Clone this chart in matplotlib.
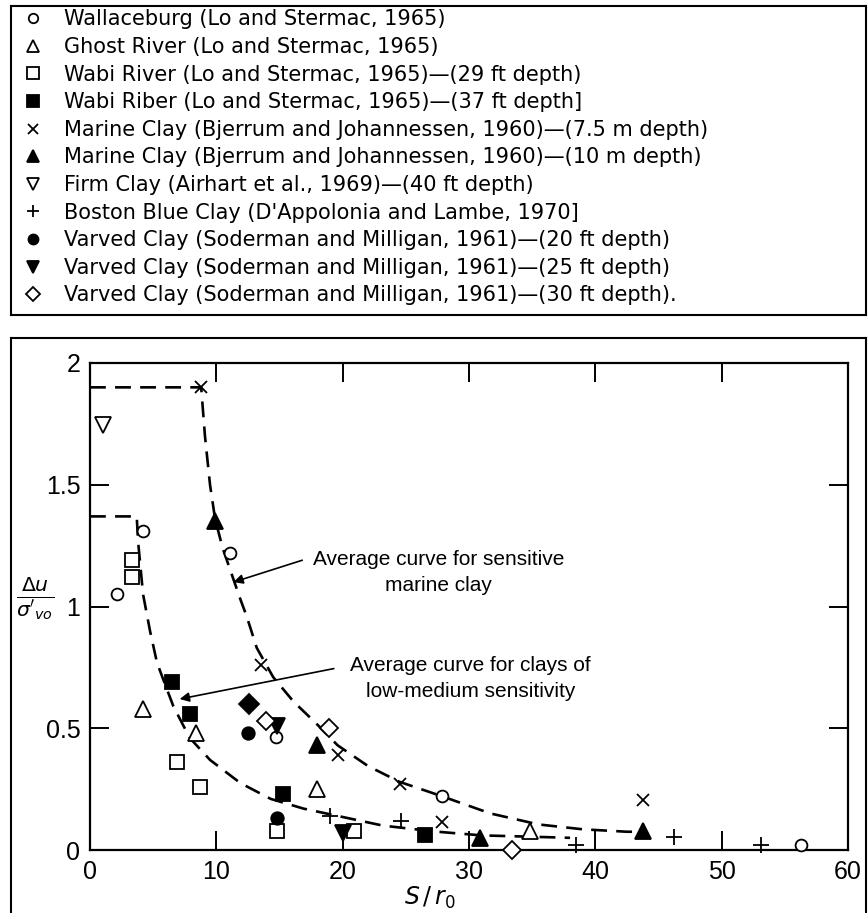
import matplotlib
matplotlib.use("Agg")
import matplotlib.pyplot as plt
from matplotlib import font_manager

# --- DATA -------------------------------------------------------------------
wallaceburg_x = [2.1, 4.2, 11.1, 14.7, 27.9, 56.3]
wallaceburg_y = [1.05, 1.31, 1.22, 0.465, 0.22, 0.02]

ghost_x = [4.2, 8.4, 18.0, 34.8]
ghost_y = [0.58, 0.48, 0.25, 0.08]

wabi29_x = [3.3, 3.3, 6.9, 8.7, 14.8, 20.9]
wabi29_y = [1.19, 1.12, 0.36, 0.26, 0.08, 0.08]

wabi37_x = [6.5, 7.9, 15.3, 26.5]
wabi37_y = [0.69, 0.56, 0.23, 0.06]

marine75_x = [8.8, 13.5, 19.6, 24.5, 27.9, 43.8]
marine75_y = [1.90, 0.76, 0.39, 0.27, 0.115, 0.205]

marine10_x = [9.9, 18.0, 30.9, 43.8]
marine10_y = [1.35, 0.43, 0.05, 0.08]

firm_x = [1.05]
firm_y = [1.745]

boston_x = [19.0, 24.6, 38.5, 46.2, 53.1]
boston_y = [0.14, 0.12, 0.02, 0.055, 0.02]

varved20_x = [12.5, 14.8]
varved20_y = [0.48, 0.13]

varved25_x = [14.8, 20.0]
varved25_y = [0.51, 0.07]

varved30_x = [13.9, 18.9, 33.4]
varved30_y = [0.53, 0.50, 0.0]

extra_x = [12.6]
extra_y = [0.60]

# dashed average curves
sens_x = [0, 8.8, 9.1, 9.5, 9.9, 10.5, 11.1, 11.9, 12.4, 13.2, 14.5, 16.1,
          17.9, 19.6, 22.0, 24.5, 27.9, 31.7, 35.5, 39.0, 42.5, 44.0]
sens_y = [1.90, 1.90, 1.70, 1.50, 1.36, 1.24, 1.15, 1.03, 0.96, 0.83, 0.71, 0.61,
          0.52, 0.43, 0.345, 0.28, 0.22, 0.15, 0.105, 0.085, 0.075, 0.075]

low_x = [0, 3.7, 3.8, 4.2, 4.75, 5.3, 5.8, 6.6, 7.9, 9.5, 11.9, 14.3, 16.9,
         18.7, 23.2, 27.5, 31.0, 34.6, 38.0]
low_y = [1.37, 1.37, 1.27, 1.05, 0.90, 0.77, 0.70, 0.59, 0.46, 0.37, 0.275, 0.21, 0.17,
         0.15, 0.10, 0.075, 0.06, 0.055, 0.05]

labels = [
    "Wallaceburg (Lo and Stermac, 1965)",
    "Ghost River (Lo and Stermac, 1965)",
    "Wabi River (Lo and Stermac, 1965)\u2014(29 ft depth)",
    "Wabi Riber (Lo and Stermac, 1965)\u2014(37 ft depth]",
    "Marine Clay (Bjerrum and Johannessen, 1960)\u2014(7.5 m depth)",
    "Marine Clay (Bjerrum and Johannessen, 1960)\u2014(10 m depth)",
    "Firm Clay (Airhart et al., 1969)\u2014(40 ft depth)",
    "Boston Blue Clay (D'Appolonia and Lambe, 1970]",
    "Varved Clay (Soderman and Milligan, 1961)\u2014(20 ft depth)",
    "Varved Clay (Soderman and Milligan, 1961)\u2014(25 ft depth)",
    "Varved Clay (Soderman and Milligan, 1961)\u2014(30 ft depth).",
]

x_ticks = [0, 10, 20, 30, 40, 50, 60]
y_ticks = [0, 0.5, 1, 1.5, 2]
y_ticklabels = ["0", "0.5", "1", "1.5", "2"]

# condensed face for the chart text, if one is installed
installed = {f.name for f in font_manager.fontManager.ttflist}
if "Liberation Sans Narrow" in installed:
    NARROW = ["Liberation Sans Narrow", "DejaVu Sans"]
    ANN_SIZE, TICK_SIZE = 16.3, 19
else:
    NARROW = ["Liberation Sans", "DejaVu Sans"]
    ANN_SIZE, TICK_SIZE = 15, 18

# --- FIGURE ------------------------------------------------------------------
W, H = 868, 913
fig = plt.figure(figsize=(W / 100, H / 100), dpi=100)

# outer frame around the chart
frame = fig.add_axes([11 / W, 0, 855 / W, (H - 338) / H], zorder=-1)
frame.set_xticks([])
frame.set_yticks([])
frame.spines["bottom"].set_visible(False)
for s in frame.spines.values():
    s.set_linewidth(1.5)

# legend box
lax = fig.add_axes([11 / W, 1 - 315 / H, 855 / W, 309 / H])
lax.set_xticks([])
lax.set_yticks([])
for s in lax.spines.values():
    s.set_linewidth(1.5)

ax = fig.add_axes([90 / W, 1 - 850 / H, 758 / W, 487 / H])

mk = dict(linestyle="none", color="black", markeredgecolor="black",
          markeredgewidth=1.3, clip_on=False, zorder=3)
ax.plot(wallaceburg_x, wallaceburg_y, marker="o", ms=8.5, mfc="white", label=labels[0], **mk)
ax.plot(ghost_x, ghost_y, marker="^", ms=11, mfc="white", label=labels[1], **mk)
ax.plot(wabi29_x, wabi29_y, marker="s", ms=10, mfc="white", label=labels[2], **mk)
ax.plot(wabi37_x, wabi37_y, marker="s", ms=10, mfc="black", label=labels[3], **mk)
ax.plot(marine75_x, marine75_y, marker="x", ms=9, label=labels[4], **mk)
ax.plot(marine10_x, marine10_y, marker="^", ms=11, mfc="black", label=labels[5], **mk)
ax.plot(firm_x, firm_y, marker="v", ms=11, mfc="white", label=labels[6], **mk)
ax.plot(boston_x, boston_y, marker="+", ms=11, label=labels[7], **mk)
ax.plot(varved20_x, varved20_y, marker="o", ms=9, mfc="black", label=labels[8], **mk)
ax.plot(varved25_x, varved25_y, marker="v", ms=11, mfc="black", label=labels[9], **mk)
ax.plot(varved30_x, varved30_y, marker="D", ms=9, mfc="white", label=labels[10], **mk)
ax.plot(extra_x, extra_y, marker="D", ms=10, mfc="black", label="_nolegend_", **mk)

ax.plot(sens_x, sens_y, color="black", lw=1.9, dashes=(6, 3.5), zorder=2)
ax.plot(low_x, low_y, color="black", lw=1.9, dashes=(6, 3.5), zorder=2)

# annotations
arrow = dict(arrowstyle="-|>", color="black", lw=1.2, mutation_scale=14,
             shrinkA=0, shrinkB=0)
ax.annotate("", xy=(11.35, 1.10), xytext=(16.8, 1.19), arrowprops=arrow)
ax.text(27.6, 1.14, "Average curve for sensitive\nmarine clay", ha="center",
        va="center", multialignment="center", fontsize=ANN_SIZE, family=NARROW,
        linespacing=1.45)
ax.annotate("", xy=(7.1, 0.62), xytext=(19.3, 0.745), arrowprops=arrow)
ax.text(30.1, 0.705, "Average curve for clays of\nlow-medium sensitivity", ha="center",
        va="center", multialignment="center", fontsize=ANN_SIZE, family=NARROW,
        linespacing=1.45)

ax.set_xlim(0, 60)
ax.set_ylim(0, 2)
ax.set_xticks(x_ticks)
ax.set_yticks(y_ticks)
ax.set_yticklabels(y_ticklabels)
ax.tick_params(direction="in", length=14, width=1.4, top=True, right=True,
               labelsize=TICK_SIZE, pad=7)
for lab in ax.get_xticklabels() + ax.get_yticklabels():
    lab.set_family(NARROW)
for s in ax.spines.values():
    s.set_linewidth(1.6)

ax.set_xlabel(r"$S\,/\,r_0$", fontsize=17)
ax.xaxis.set_label_coords(0.449, -0.072)
ax.set_ylabel(r"$\frac{\Delta u}{\sigma'_{vo}}$", fontsize=21, rotation=0,
              va="center", ha="center")
ax.yaxis.set_label_coords(-0.072, 0.517)

h, l = ax.get_legend_handles_labels()
lax.legend(h, l, loc="upper left", frameon=False,
           prop={"family": "DejaVu Sans", "size": 15},
           handlelength=1.0, handletextpad=1.0, labelspacing=0.365,
           borderaxespad=0.0, bbox_to_anchor=(0.004, 1.016), markerscale=0.8)

fig.savefig("out.png", dpi=100)
